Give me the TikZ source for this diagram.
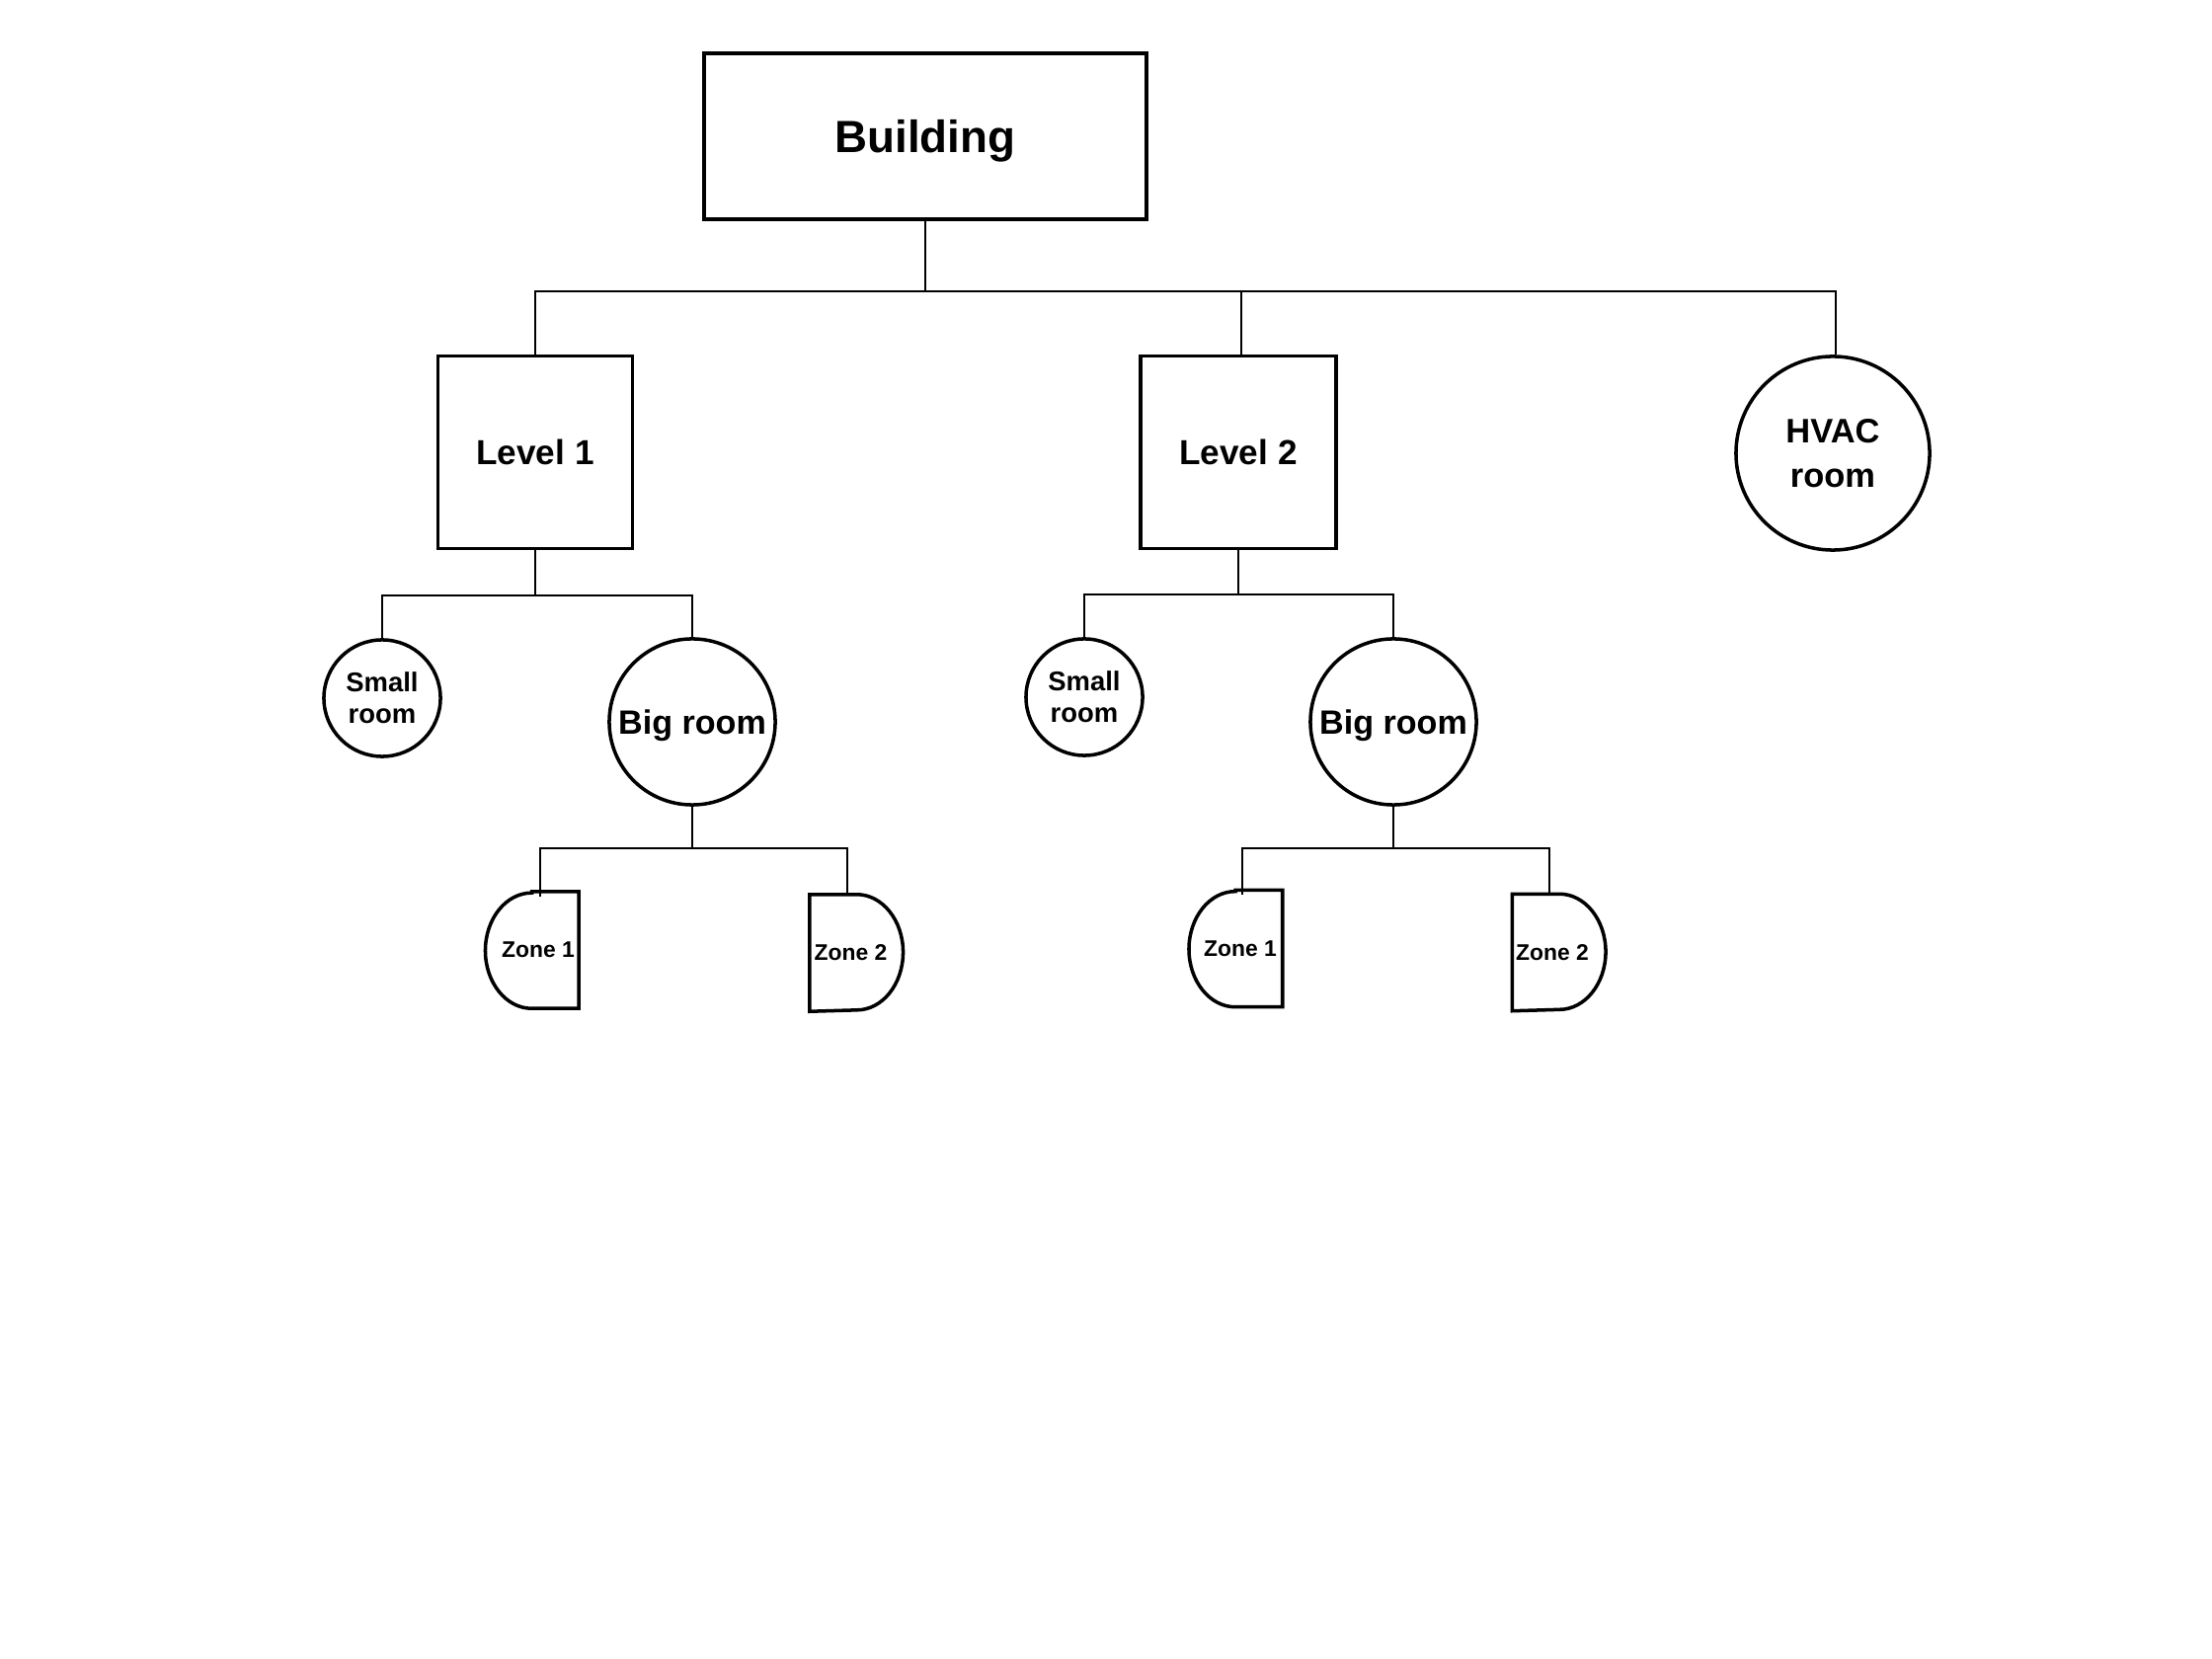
\documentclass[tikz,border=0pt]{standalone}
\usepackage{fontspec}
\setmainfont{Liberation Sans}
\begin{document}
\begin{tikzpicture}[x=0.01cm, y=-0.01cm,
  box/.style={draw, line width=1pt, rectangle, inner sep=0pt},
  room/.style={draw, line width=1pt, circle, inner sep=0pt, align=center},
  zonebox/.style={rectangle, inner sep=0pt, draw=none, minimum width=0.94cm, minimum height=1.17cm},
  zoneline/.style={line width=1pt},
  link/.style={line width=0.4pt},
  ztext/.style={font=\bfseries\fontsize{6.5}{7.8}\selectfont, inner sep=0pt}
]
\fill[white] (0,0) rectangle (2240,1680);
\useasboundingbox (0,0) rectangle (2240,1680);

% top level
\node[box, minimum width=4.48cm, minimum height=1.68cm, text height=9.3pt, text depth=0pt, font=\bfseries\fontsize{13}{15.6}\selectfont] (building) at (937,138) {Building};

\node[box, minimum width=1.97cm, minimum height=1.95cm, font=\bfseries\fontsize{10}{12}\selectfont] (level1) at (542,458) {Level 1};
\node[box, minimum width=1.98cm, minimum height=1.95cm, font=\bfseries\fontsize{10}{12}\selectfont] (level2) at (1254,458) {Level 2};
\node[room, minimum size=1.96cm, font=\bfseries\fontsize{9.8}{12.8}\selectfont] (hvac) at (1856,459) {HVAC\\room};

% rooms
\node[room, minimum size=1.18cm, font=\bfseries\fontsize{7.8}{9.1}\selectfont] (small1) at (387,707) {Small\\room};
\node[room, minimum size=1.68cm, text depth=0pt, font=\bfseries\fontsize{9.7}{11.6}\selectfont] (big1) at (701,731) {Big room};
\node[room, minimum size=1.18cm, font=\bfseries\fontsize{7.8}{9.1}\selectfont] (small2) at (1098,706) {Small\\room};
\node[room, minimum size=1.68cm, text depth=0pt, font=\bfseries\fontsize{9.7}{11.6}\selectfont] (big2) at (1411,731) {Big room};

% zones
\node[zonebox, label={[ztext, xshift=0.065cm]center:Zone 1}] (z1a) at (538.5,962) {};
\node[zonebox, label={[ztext, xshift=-0.06cm]center:Zone 2}] (z2a) at (867.5,965) {};
\node[zonebox, label={[ztext, xshift=0.05cm]center:Zone 1}] (z1b) at (1251,960.5) {};
\node[zonebox, label={[ztext, xshift=-0.07cm]center:Zone 2}] (z2b) at (1579,964.5) {};

\draw[zoneline] (z1a.north) -- (z1a.north east) -- (z1a.south east) -- (z1a.south)
  arc[start angle=270, end angle=90, x radius=0.47cm, y radius=0.585cm] -- cycle;
\draw[zoneline] (z1b.north) -- (z1b.north east) -- (z1b.south east) -- (z1b.south)
  arc[start angle=270, end angle=90, x radius=0.47cm, y radius=0.585cm] -- cycle;
\draw[zoneline] (z2a.north west) -- (z2a.north)
  arc[start angle=90, end angle=-90, x radius=0.47cm, y radius=0.585cm] -- (z2a.south west) -- cycle;
\draw[zoneline] (z2b.north west) -- (z2b.north)
  arc[start angle=90, end angle=-90, x radius=0.47cm, y radius=0.585cm] -- (z2b.south west) -- cycle;

% connectors
\coordinate (j0) at (937,295);
\draw[link] (building.south) -- (j0);
\draw[link] (j0) -| (level1.north);
\draw[link] (j0) -| ([xshift=0.03cm]level2.north);
\draw[link] (j0) -| ([xshift=0.03cm]hvac.north);

\coordinate (j1) at (542,603);
\draw[link] (level1.south) -- (j1);
\draw[link] (j1) -| (small1.north);
\draw[link] (j1) -| (big1.north);

\coordinate (j2) at (1254,602);
\draw[link] (level2.south) -- (j2);
\draw[link] (j2) -| (small2.north);
\draw[link] (j2) -| (big2.north);

\coordinate (j3) at (701,859);
\draw[link] (big1.south) -- (j3);
\draw[link] (j3) -| ([xshift=0.085cm, yshift=-0.05cm]z1a.north);
\draw[link] (j3) -| ([xshift=-0.095cm]z2a.north);

\coordinate (j4) at (1411,859);
\draw[link] (big2.south) -- (j4);
\draw[link] (j4) -| ([xshift=0.07cm, yshift=-0.05cm]z1b.north);
\draw[link] (j4) -| ([xshift=-0.10cm]z2b.north);
\end{tikzpicture}
\end{document}
